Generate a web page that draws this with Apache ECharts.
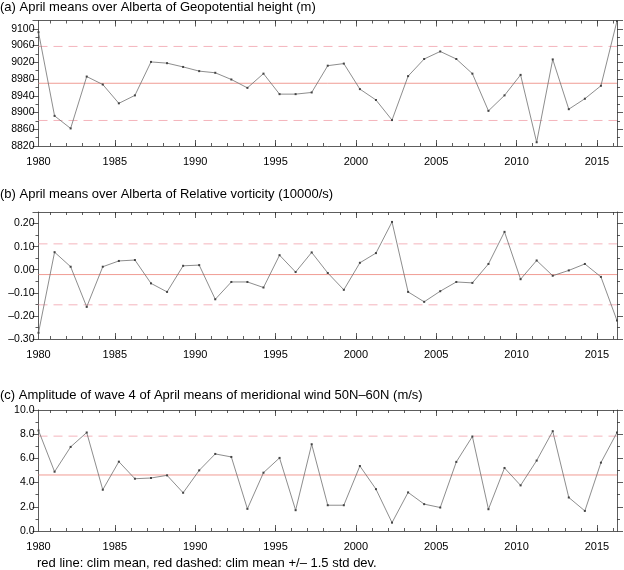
<!DOCTYPE html>
<html>
<head>
<meta charset="UTF-8">
<title>April means over Alberta</title>
<script src="https://cdn.jsdelivr.net/npm/echarts@6/dist/echarts.min.js"></script>
<style>
  html, body { margin: 0; padding: 0; background: #fff; }
  #main { width: 624px; height: 570px; }
</style>
</head>
<body>
<div id="main"></div>
<script>
// years (April values plotted at year + 0.25)
var years = [];
for (var y = 1980; y <= 2016; y++) years.push(y);
var monthOffset = 0.25;
var tickYears = [1980, 1985, 1990, 1995, 2000, 2005, 2010, 2015];

// (a) geopotential height (m)
var heightVals = [9092, 8892, 8862, 8986, 8967, 8922, 8941, 9021, 9018, 9009,
  8999, 8995, 8979, 8959, 8993, 8944, 8944, 8948, 9012, 9017,
  8956, 8930, 8882, 8987, 9028, 9046, 9028, 8993, 8904, 8941,
  8990, 8829, 9027, 8908, 8933, 8964, 9119];
var heightMean = 8970, heightUp = 9058, heightLow = 8881;

// (b) relative vorticity (10000/s)
var vortVals = [-0.273, 0.076, 0.013, -0.161, 0.013, 0.038, 0.042, -0.059, -0.096, 0.017,
  0.020, -0.128, -0.053, -0.053, -0.077, 0.063, -0.010, 0.075, -0.014, -0.087,
  0.030, 0.072, 0.207, -0.096, -0.139, -0.093, -0.053, -0.057, 0.025, 0.164,
  -0.041, 0.040, -0.026, -0.003, 0.025, -0.031, -0.220];
var vortMean = -0.021, vortUp = 0.112, vortLow = -0.152;

// (c) wave 4 amplitude (m/s)
var ampVals = [8.31, 4.90, 6.95, 8.14, 3.41, 5.73, 4.32, 4.38, 4.60, 3.16,
  5.01, 6.37, 6.12, 1.83, 4.82, 6.04, 1.72, 7.17, 2.13, 2.13,
  5.37, 3.46, 0.69, 3.19, 2.22, 1.94, 5.71, 7.81, 1.80, 5.21,
  3.77, 5.82, 8.25, 2.77, 1.66, 5.65, 8.14];
var ampMean = 4.63, ampUp = 7.84;

var xMin = years[0] + monthOffset, xMax = years[years.length - 1] + monthOffset;
var minorYears = years.filter(function (v) { return v > xMin && v < xMax; });
var majorYears = tickYears.filter(function (v) { return v > xMin; });

var fontFam = '"Liberation Sans", Arial, sans-serif';
var lineColor = '#707070';
var meanColor = '#f09c94';
var dashColor = '#f4b4bc';
var axisColor = '#333';

var panels = [
  { top: 20.5, bottom: 424, data: heightVals, min: 8820, max: 9120, interval: 40,
    mean: heightMean, dashed: [heightUp, heightLow], fmt: function (v) { return String(v); } },
  { top: 212, bottom: 231, data: vortVals, min: -0.30, max: 0.25, interval: 0.10,
    mean: vortMean, dashed: [vortUp, vortLow], fmt: function (v) { return (v < 0 ? '\u2013' : '') + Math.abs(v).toFixed(2); } },
  { top: 410, bottom: 39, data: ampVals, min: 0, max: 10, interval: 2,
    mean: ampMean, dashed: [ampUp], fmt: function (v) { return v.toFixed(1); } }
];

function tickAxis(i, pos, len, vals, withLine) {
  return {
    type: 'value', gridIndex: i, min: xMin, max: xMax, position: pos,
    splitLine: { show: false },
    axisLine: { show: withLine, onZero: false, lineStyle: { color: axisColor, width: 0.8 } },
    axisTick: { show: true, inside: true, length: len, customValues: vals, lineStyle: { color: axisColor, width: 0.8 } },
    axisLabel: { show: false }
  };
}

var grids = [], xAxes = [], yAxes = [], series = [];
panels.forEach(function (p, i) {
  grids.push({ left: 38.5, right: 7, top: p.top, bottom: p.bottom });

  var bottomMajor = tickAxis(i, 'bottom', 6, majorYears, true);
  bottomMajor.axisLabel = { show: true, margin: 10, color: '#000', fontSize: 11, fontFamily: fontFam,
    customValues: tickYears.map(function (v) { return Math.max(v, xMin); }),
    formatter: function (v) { return String(Math.floor(v)); } };
  xAxes.push(bottomMajor);
  xAxes.push(tickAxis(i, 'bottom', 3, minorYears, false));
  xAxes.push(tickAxis(i, 'top', 6, majorYears, true));
  xAxes.push(tickAxis(i, 'top', 3, minorYears, false));

  var ybase = { type: 'value', gridIndex: i, min: p.min, max: p.max, interval: p.interval,
    splitLine: { show: false },
    axisLine: { show: true, onZero: false, lineStyle: { color: axisColor, width: 0.8 } },
    axisTick: { show: true, length: 6, lineStyle: { color: axisColor, width: 0.8 } },
    minorTick: { show: true, splitNumber: 2, length: 3, lineStyle: { color: axisColor, width: 0.8 } } };
  yAxes.push(Object.assign({}, ybase, {
    position: 'left',
    axisLabel: { show: true, margin: 4, color: '#000', fontSize: 10.5, fontFamily: fontFam,
      showMaxLabel: p.max === 10,
      formatter: p.fmt }
  }));
  yAxes.push(Object.assign({}, ybase, { position: 'right', axisLabel: { show: false } }));

  // climatological mean and +/- 1.5 std dev lines
  series.push({
    type: 'line', xAxisIndex: i * 4, yAxisIndex: i * 2, symbol: 'none', silent: true, z: 2,
    data: [[xMin, p.mean], [xMax, p.mean]],
    lineStyle: { color: meanColor, width: 1, type: 'solid' }
  });
  p.dashed.forEach(function (d) {
    series.push({
      type: 'line', xAxisIndex: i * 4, yAxisIndex: i * 2, symbol: 'none', silent: true, z: 2,
      data: [[xMin, d], [xMax, d]],
      lineStyle: { color: dashColor, width: 1, type: [9, 6] }
    });
  });

  series.push({
    type: 'line',
    xAxisIndex: i * 4,
    yAxisIndex: i * 2,
    data: years.map(function (yr, j) { return [yr + monthOffset, p.data[j]]; }),
    symbol: 'rect',
    symbolSize: 2,
    itemStyle: { color: '#444' },
    lineStyle: { color: lineColor, width: 0.8 },
    z: 5
  });
});

var titleStyle = { color: '#000', fontSize: 13, fontWeight: 'normal', fontFamily: fontFam };
var myChart = echarts.init(document.getElementById('main'), null, { renderer: 'canvas' });
myChart.setOption({
  backgroundColor: '#fff',
  animation: false,
  title: [
    { text: '(a) April means over Alberta of Geopotential height (m)', left: 0, top: 1, padding: 0, textStyle: titleStyle },
    { text: '(b) April means over Alberta of Relative vorticity (10000/s)', left: 0, top: 188, padding: 0, textStyle: titleStyle },
    { text: '(c) Amplitude of wave 4 of April means of meridional wind 50N\u201360N (m/s)', left: 0, top: 389, padding: 0, textStyle: titleStyle },
    { text: 'red line: clim mean, red dashed: clim mean +/\u2013 1.5 std dev.', left: 37, top: 557, padding: 0, textStyle: titleStyle }
  ],
  grid: grids,
  xAxis: xAxes,
  yAxis: yAxes,
  series: series
});
</script>
</body>
</html>
